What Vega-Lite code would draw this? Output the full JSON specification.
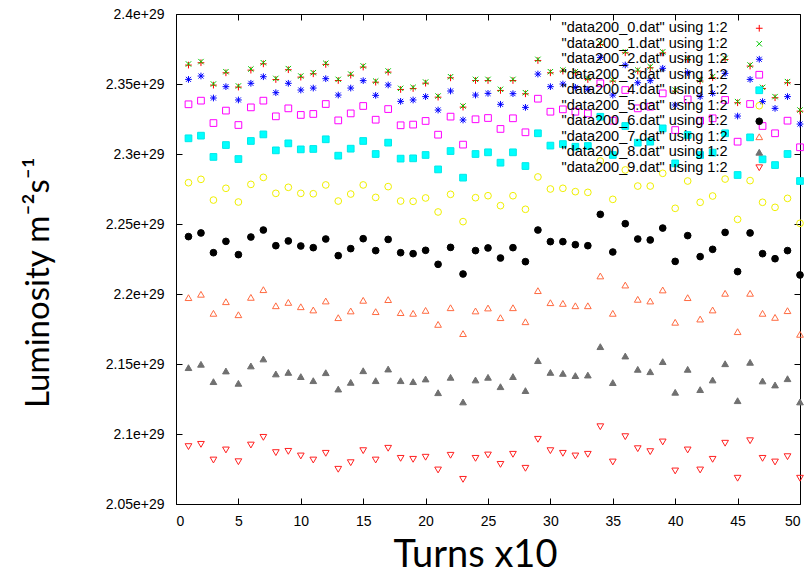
{
"$schema":"https://vega.github.io/schema/vega-lite/v6.json",
"width":624,"height":490,
"autosize":{"type":"none"},
"padding":{"left":176,"top":14,"right":9,"bottom":75},
"background":"white",
"config":{"view":{"stroke":"black","strokeWidth":1},
"axis":{"domain":false,"grid":false,"tickSize":-6,"tickColor":"black","tickWidth":1,"labelFont":"Liberation Sans","labelFontSize":14,"labelColor":"black","titleColor":"black","titleFontWeight":"normal"},
"legend":{"labelLimit":0}},
"datasets":{"d":[
{"s":"data200_0","x":1,"y":2.3635e29},{"s":"data200_0","x":2,"y":2.3652e29},{"s":"data200_0","x":3,"y":2.3492e29},{"s":"data200_0","x":4,"y":2.3580e29},{"s":"data200_0","x":5,"y":2.3478e29},{"s":"data200_0","x":6,"y":2.3599e29},{"s":"data200_0","x":7,"y":2.3644e29},{"s":"data200_0","x":8,"y":2.3532e29},{"s":"data200_0","x":9,"y":2.3602e29},{"s":"data200_0","x":10,"y":2.3549e29},
{"s":"data200_0","x":11,"y":2.3573e29},{"s":"data200_0","x":12,"y":2.3640e29},{"s":"data200_0","x":13,"y":2.3525e29},{"s":"data200_0","x":14,"y":2.3563e29},{"s":"data200_0","x":15,"y":2.3621e29},{"s":"data200_0","x":16,"y":2.3513e29},{"s":"data200_0","x":17,"y":2.3585e29},{"s":"data200_0","x":18,"y":2.3461e29},{"s":"data200_0","x":19,"y":2.3468e29},{"s":"data200_0","x":20,"y":2.3506e29},
{"s":"data200_0","x":21,"y":2.3406e29},{"s":"data200_0","x":22,"y":2.3544e29},{"s":"data200_0","x":23,"y":2.3335e29},{"s":"data200_0","x":24,"y":2.3525e29},{"s":"data200_0","x":25,"y":2.3525e29},{"s":"data200_0","x":26,"y":2.3454e29},{"s":"data200_0","x":27,"y":2.3525e29},{"s":"data200_0","x":28,"y":2.3430e29},{"s":"data200_0","x":29,"y":2.3668e29},{"s":"data200_0","x":30,"y":2.3580e29},
{"s":"data200_0","x":31,"y":2.3592e29},{"s":"data200_0","x":32,"y":2.3580e29},{"s":"data200_0","x":33,"y":2.3532e29},{"s":"data200_0","x":34,"y":2.3782e29},{"s":"data200_0","x":35,"y":2.3521e29},{"s":"data200_0","x":36,"y":2.3723e29},{"s":"data200_0","x":37,"y":2.3592e29},{"s":"data200_0","x":38,"y":2.3616e29},{"s":"data200_0","x":39,"y":2.3722e29},{"s":"data200_0","x":40,"y":2.3449e29},
{"s":"data200_0","x":41,"y":2.3675e29},{"s":"data200_0","x":42,"y":2.3521e29},{"s":"data200_0","x":43,"y":2.3545e29},{"s":"data200_0","x":44,"y":2.3675e29},{"s":"data200_0","x":45,"y":2.3366e29},{"s":"data200_0","x":46,"y":2.3628e29},{"s":"data200_0","x":47,"y":2.3468e29},{"s":"data200_0","x":48,"y":2.3402e29},{"s":"data200_0","x":49,"y":2.3509e29},{"s":"data200_0","x":50,"y":2.3306e29},
{"s":"data200_1","x":1,"y":2.3643e29},{"s":"data200_1","x":2,"y":2.3660e29},{"s":"data200_1","x":3,"y":2.3500e29},{"s":"data200_1","x":4,"y":2.3588e29},{"s":"data200_1","x":5,"y":2.3486e29},{"s":"data200_1","x":6,"y":2.3607e29},{"s":"data200_1","x":7,"y":2.3652e29},{"s":"data200_1","x":8,"y":2.3540e29},{"s":"data200_1","x":9,"y":2.3610e29},{"s":"data200_1","x":10,"y":2.3557e29},
{"s":"data200_1","x":11,"y":2.3581e29},{"s":"data200_1","x":12,"y":2.3648e29},{"s":"data200_1","x":13,"y":2.3533e29},{"s":"data200_1","x":14,"y":2.3571e29},{"s":"data200_1","x":15,"y":2.3629e29},{"s":"data200_1","x":16,"y":2.3521e29},{"s":"data200_1","x":17,"y":2.3593e29},{"s":"data200_1","x":18,"y":2.3469e29},{"s":"data200_1","x":19,"y":2.3476e29},{"s":"data200_1","x":20,"y":2.3514e29},
{"s":"data200_1","x":21,"y":2.3414e29},{"s":"data200_1","x":22,"y":2.3552e29},{"s":"data200_1","x":23,"y":2.3343e29},{"s":"data200_1","x":24,"y":2.3533e29},{"s":"data200_1","x":25,"y":2.3533e29},{"s":"data200_1","x":26,"y":2.3462e29},{"s":"data200_1","x":27,"y":2.3533e29},{"s":"data200_1","x":28,"y":2.3438e29},{"s":"data200_1","x":29,"y":2.3676e29},{"s":"data200_1","x":30,"y":2.3588e29},
{"s":"data200_1","x":31,"y":2.3600e29},{"s":"data200_1","x":32,"y":2.3588e29},{"s":"data200_1","x":33,"y":2.3540e29},{"s":"data200_1","x":34,"y":2.3790e29},{"s":"data200_1","x":35,"y":2.3529e29},{"s":"data200_1","x":36,"y":2.3731e29},{"s":"data200_1","x":37,"y":2.3600e29},{"s":"data200_1","x":38,"y":2.3624e29},{"s":"data200_1","x":39,"y":2.3730e29},{"s":"data200_1","x":40,"y":2.3457e29},
{"s":"data200_1","x":41,"y":2.3683e29},{"s":"data200_1","x":42,"y":2.3529e29},{"s":"data200_1","x":43,"y":2.3553e29},{"s":"data200_1","x":44,"y":2.3683e29},{"s":"data200_1","x":45,"y":2.3374e29},{"s":"data200_1","x":46,"y":2.3636e29},{"s":"data200_1","x":47,"y":2.3476e29},{"s":"data200_1","x":48,"y":2.3410e29},{"s":"data200_1","x":49,"y":2.3517e29},{"s":"data200_1","x":50,"y":2.3314e29},
{"s":"data200_2","x":1,"y":2.3533e29},{"s":"data200_2","x":2,"y":2.3557e29},{"s":"data200_2","x":3,"y":2.3400e29},{"s":"data200_2","x":4,"y":2.3481e29},{"s":"data200_2","x":5,"y":2.3386e29},{"s":"data200_2","x":6,"y":2.3505e29},{"s":"data200_2","x":7,"y":2.3552e29},{"s":"data200_2","x":8,"y":2.3438e29},{"s":"data200_2","x":9,"y":2.3505e29},{"s":"data200_2","x":10,"y":2.3457e29},
{"s":"data200_2","x":11,"y":2.3471e29},{"s":"data200_2","x":12,"y":2.3538e29},{"s":"data200_2","x":13,"y":2.3421e29},{"s":"data200_2","x":14,"y":2.3471e29},{"s":"data200_2","x":15,"y":2.3524e29},{"s":"data200_2","x":16,"y":2.3419e29},{"s":"data200_2","x":17,"y":2.3493e29},{"s":"data200_2","x":18,"y":2.3376e29},{"s":"data200_2","x":19,"y":2.3386e29},{"s":"data200_2","x":20,"y":2.3410e29},
{"s":"data200_2","x":21,"y":2.3314e29},{"s":"data200_2","x":22,"y":2.3450e29},{"s":"data200_2","x":23,"y":2.3243e29},{"s":"data200_2","x":24,"y":2.3421e29},{"s":"data200_2","x":25,"y":2.3433e29},{"s":"data200_2","x":26,"y":2.3355e29},{"s":"data200_2","x":27,"y":2.3431e29},{"s":"data200_2","x":28,"y":2.3333e29},{"s":"data200_2","x":29,"y":2.3571e29},{"s":"data200_2","x":30,"y":2.3481e29},
{"s":"data200_2","x":31,"y":2.3500e29},{"s":"data200_2","x":32,"y":2.3476e29},{"s":"data200_2","x":33,"y":2.3462e29},{"s":"data200_2","x":34,"y":2.3690e29},{"s":"data200_2","x":35,"y":2.3421e29},{"s":"data200_2","x":36,"y":2.3636e29},{"s":"data200_2","x":37,"y":2.3509e29},{"s":"data200_2","x":38,"y":2.3524e29},{"s":"data200_2","x":39,"y":2.3612e29},{"s":"data200_2","x":40,"y":2.3350e29},
{"s":"data200_2","x":41,"y":2.3581e29},{"s":"data200_2","x":42,"y":2.3410e29},{"s":"data200_2","x":43,"y":2.3433e29},{"s":"data200_2","x":44,"y":2.3576e29},{"s":"data200_2","x":45,"y":2.3271e29},{"s":"data200_2","x":46,"y":2.3533e29},{"s":"data200_2","x":47,"y":2.3374e29},{"s":"data200_2","x":48,"y":2.3326e29},{"s":"data200_2","x":49,"y":2.3410e29},{"s":"data200_2","x":50,"y":2.3214e29},
{"s":"data200_3","x":1,"y":2.3355e29},{"s":"data200_3","x":2,"y":2.3381e29},{"s":"data200_3","x":3,"y":2.3221e29},{"s":"data200_3","x":4,"y":2.3310e29},{"s":"data200_3","x":5,"y":2.3207e29},{"s":"data200_3","x":6,"y":2.3333e29},{"s":"data200_3","x":7,"y":2.3381e29},{"s":"data200_3","x":8,"y":2.3269e29},{"s":"data200_3","x":9,"y":2.3326e29},{"s":"data200_3","x":10,"y":2.3279e29},
{"s":"data200_3","x":11,"y":2.3286e29},{"s":"data200_3","x":12,"y":2.3357e29},{"s":"data200_3","x":13,"y":2.3240e29},{"s":"data200_3","x":14,"y":2.3290e29},{"s":"data200_3","x":15,"y":2.3343e29},{"s":"data200_3","x":16,"y":2.3245e29},{"s":"data200_3","x":17,"y":2.3321e29},{"s":"data200_3","x":18,"y":2.3205e29},{"s":"data200_3","x":19,"y":2.3210e29},{"s":"data200_3","x":20,"y":2.3236e29},
{"s":"data200_3","x":21,"y":2.3138e29},{"s":"data200_3","x":22,"y":2.3267e29},{"s":"data200_3","x":23,"y":2.3067e29},{"s":"data200_3","x":24,"y":2.3248e29},{"s":"data200_3","x":25,"y":2.3257e29},{"s":"data200_3","x":26,"y":2.3179e29},{"s":"data200_3","x":27,"y":2.3255e29},{"s":"data200_3","x":28,"y":2.3155e29},{"s":"data200_3","x":29,"y":2.3395e29},{"s":"data200_3","x":30,"y":2.3302e29},
{"s":"data200_3","x":31,"y":2.3319e29},{"s":"data200_3","x":32,"y":2.3302e29},{"s":"data200_3","x":33,"y":2.3290e29},{"s":"data200_3","x":34,"y":2.3505e29},{"s":"data200_3","x":35,"y":2.3238e29},{"s":"data200_3","x":36,"y":2.3457e29},{"s":"data200_3","x":37,"y":2.3326e29},{"s":"data200_3","x":38,"y":2.3338e29},{"s":"data200_3","x":39,"y":2.3433e29},{"s":"data200_3","x":40,"y":2.3171e29},
{"s":"data200_3","x":41,"y":2.3390e29},{"s":"data200_3","x":42,"y":2.3238e29},{"s":"data200_3","x":43,"y":2.3255e29},{"s":"data200_3","x":44,"y":2.3386e29},{"s":"data200_3","x":45,"y":2.3088e29},{"s":"data200_3","x":46,"y":2.3357e29},{"s":"data200_3","x":47,"y":2.3200e29},{"s":"data200_3","x":48,"y":2.3148e29},{"s":"data200_3","x":49,"y":2.3238e29},{"s":"data200_3","x":50,"y":2.3048e29},
{"s":"data200_4","x":1,"y":2.3112e29},{"s":"data200_4","x":2,"y":2.3131e29},{"s":"data200_4","x":3,"y":2.2979e29},{"s":"data200_4","x":4,"y":2.3064e29},{"s":"data200_4","x":5,"y":2.2964e29},{"s":"data200_4","x":6,"y":2.3093e29},{"s":"data200_4","x":7,"y":2.3140e29},{"s":"data200_4","x":8,"y":2.3026e29},{"s":"data200_4","x":9,"y":2.3076e29},{"s":"data200_4","x":10,"y":2.3033e29},
{"s":"data200_4","x":11,"y":2.3036e29},{"s":"data200_4","x":12,"y":2.3105e29},{"s":"data200_4","x":13,"y":2.2988e29},{"s":"data200_4","x":14,"y":2.3038e29},{"s":"data200_4","x":15,"y":2.3093e29},{"s":"data200_4","x":16,"y":2.3000e29},{"s":"data200_4","x":17,"y":2.3081e29},{"s":"data200_4","x":18,"y":2.2967e29},{"s":"data200_4","x":19,"y":2.2969e29},{"s":"data200_4","x":20,"y":2.2993e29},
{"s":"data200_4","x":21,"y":2.2890e29},{"s":"data200_4","x":22,"y":2.3021e29},{"s":"data200_4","x":23,"y":2.2831e29},{"s":"data200_4","x":24,"y":2.3000e29},{"s":"data200_4","x":25,"y":2.3012e29},{"s":"data200_4","x":26,"y":2.2938e29},{"s":"data200_4","x":27,"y":2.3012e29},{"s":"data200_4","x":28,"y":2.2914e29},{"s":"data200_4","x":29,"y":2.3148e29},{"s":"data200_4","x":30,"y":2.3060e29},
{"s":"data200_4","x":31,"y":2.3071e29},{"s":"data200_4","x":32,"y":2.3052e29},{"s":"data200_4","x":33,"y":2.3057e29},{"s":"data200_4","x":34,"y":2.3266e29},{"s":"data200_4","x":35,"y":2.2993e29},{"s":"data200_4","x":36,"y":2.3200e29},{"s":"data200_4","x":37,"y":2.3081e29},{"s":"data200_4","x":38,"y":2.3088e29},{"s":"data200_4","x":39,"y":2.3183e29},{"s":"data200_4","x":40,"y":2.2933e29},
{"s":"data200_4","x":41,"y":2.3136e29},{"s":"data200_4","x":42,"y":2.2993e29},{"s":"data200_4","x":43,"y":2.3010e29},{"s":"data200_4","x":44,"y":2.3148e29},{"s":"data200_4","x":45,"y":2.2850e29},{"s":"data200_4","x":46,"y":2.3119e29},{"s":"data200_4","x":47,"y":2.2962e29},{"s":"data200_4","x":48,"y":2.2921e29},{"s":"data200_4","x":49,"y":2.3000e29},{"s":"data200_4","x":50,"y":2.2807e29},
{"s":"data200_5","x":1,"y":2.2795e29},{"s":"data200_5","x":2,"y":2.2819e29},{"s":"data200_5","x":3,"y":2.2671e29},{"s":"data200_5","x":4,"y":2.2755e29},{"s":"data200_5","x":5,"y":2.2657e29},{"s":"data200_5","x":6,"y":2.2783e29},{"s":"data200_5","x":7,"y":2.2833e29},{"s":"data200_5","x":8,"y":2.2719e29},{"s":"data200_5","x":9,"y":2.2762e29},{"s":"data200_5","x":10,"y":2.2719e29},
{"s":"data200_5","x":11,"y":2.2716e29},{"s":"data200_5","x":12,"y":2.2779e29},{"s":"data200_5","x":13,"y":2.2664e29},{"s":"data200_5","x":14,"y":2.2714e29},{"s":"data200_5","x":15,"y":2.2779e29},{"s":"data200_5","x":16,"y":2.2690e29},{"s":"data200_5","x":17,"y":2.2767e29},{"s":"data200_5","x":18,"y":2.2664e29},{"s":"data200_5","x":19,"y":2.2662e29},{"s":"data200_5","x":20,"y":2.2686e29},
{"s":"data200_5","x":21,"y":2.2586e29},{"s":"data200_5","x":22,"y":2.2712e29},{"s":"data200_5","x":23,"y":2.2517e29},{"s":"data200_5","x":24,"y":2.2688e29},{"s":"data200_5","x":25,"y":2.2702e29},{"s":"data200_5","x":26,"y":2.2631e29},{"s":"data200_5","x":27,"y":2.2702e29},{"s":"data200_5","x":28,"y":2.2605e29},{"s":"data200_5","x":29,"y":2.2836e29},{"s":"data200_5","x":30,"y":2.2750e29},
{"s":"data200_5","x":31,"y":2.2755e29},{"s":"data200_5","x":32,"y":2.2731e29},{"s":"data200_5","x":33,"y":2.2726e29},{"s":"data200_5","x":34,"y":2.2950e29},{"s":"data200_5","x":35,"y":2.2676e29},{"s":"data200_5","x":36,"y":2.2886e29},{"s":"data200_5","x":37,"y":2.2771e29},{"s":"data200_5","x":38,"y":2.2771e29},{"s":"data200_5","x":39,"y":2.2862e29},{"s":"data200_5","x":40,"y":2.2612e29},
{"s":"data200_5","x":41,"y":2.2807e29},{"s":"data200_5","x":42,"y":2.2655e29},{"s":"data200_5","x":43,"y":2.2700e29},{"s":"data200_5","x":44,"y":2.2821e29},{"s":"data200_5","x":45,"y":2.2533e29},{"s":"data200_5","x":46,"y":2.2810e29},{"s":"data200_5","x":47,"y":2.2655e29},{"s":"data200_5","x":48,"y":2.2619e29},{"s":"data200_5","x":49,"y":2.2683e29},{"s":"data200_5","x":50,"y":2.2505e29},
{"s":"data200_6","x":1,"y":2.2410e29},{"s":"data200_6","x":2,"y":2.2436e29},{"s":"data200_6","x":3,"y":2.2295e29},{"s":"data200_6","x":4,"y":2.2376e29},{"s":"data200_6","x":5,"y":2.2281e29},{"s":"data200_6","x":6,"y":2.2407e29},{"s":"data200_6","x":7,"y":2.2457e29},{"s":"data200_6","x":8,"y":2.2345e29},{"s":"data200_6","x":9,"y":2.2379e29},{"s":"data200_6","x":10,"y":2.2343e29},
{"s":"data200_6","x":11,"y":2.2331e29},{"s":"data200_6","x":12,"y":2.2393e29},{"s":"data200_6","x":13,"y":2.2274e29},{"s":"data200_6","x":14,"y":2.2324e29},{"s":"data200_6","x":15,"y":2.2395e29},{"s":"data200_6","x":16,"y":2.2310e29},{"s":"data200_6","x":17,"y":2.2390e29},{"s":"data200_6","x":18,"y":2.2295e29},{"s":"data200_6","x":19,"y":2.2288e29},{"s":"data200_6","x":20,"y":2.2312e29},
{"s":"data200_6","x":21,"y":2.2212e29},{"s":"data200_6","x":22,"y":2.2333e29},{"s":"data200_6","x":23,"y":2.2143e29},{"s":"data200_6","x":24,"y":2.2310e29},{"s":"data200_6","x":25,"y":2.2329e29},{"s":"data200_6","x":26,"y":2.2257e29},{"s":"data200_6","x":27,"y":2.2331e29},{"s":"data200_6","x":28,"y":2.2231e29},{"s":"data200_6","x":29,"y":2.2457e29},{"s":"data200_6","x":30,"y":2.2374e29},
{"s":"data200_6","x":31,"y":2.2374e29},{"s":"data200_6","x":32,"y":2.2352e29},{"s":"data200_6","x":33,"y":2.2345e29},{"s":"data200_6","x":34,"y":2.2569e29},{"s":"data200_6","x":35,"y":2.2300e29},{"s":"data200_6","x":36,"y":2.2502e29},{"s":"data200_6","x":37,"y":2.2393e29},{"s":"data200_6","x":38,"y":2.2386e29},{"s":"data200_6","x":39,"y":2.2471e29},{"s":"data200_6","x":40,"y":2.2233e29},
{"s":"data200_6","x":41,"y":2.2417e29},{"s":"data200_6","x":42,"y":2.2267e29},{"s":"data200_6","x":43,"y":2.2319e29},{"s":"data200_6","x":44,"y":2.2440e29},{"s":"data200_6","x":45,"y":2.2160e29},{"s":"data200_6","x":46,"y":2.2436e29},{"s":"data200_6","x":47,"y":2.2288e29},{"s":"data200_6","x":48,"y":2.2252e29},{"s":"data200_6","x":49,"y":2.2310e29},{"s":"data200_6","x":50,"y":2.2136e29},
{"s":"data200_7","x":1,"y":2.1974e29},{"s":"data200_7","x":2,"y":2.1998e29},{"s":"data200_7","x":3,"y":2.1862e29},{"s":"data200_7","x":4,"y":2.1945e29},{"s":"data200_7","x":5,"y":2.1852e29},{"s":"data200_7","x":6,"y":2.1976e29},{"s":"data200_7","x":7,"y":2.2031e29},{"s":"data200_7","x":8,"y":2.1916e29},{"s":"data200_7","x":9,"y":2.1940e29},{"s":"data200_7","x":10,"y":2.1909e29},
{"s":"data200_7","x":11,"y":2.1886e29},{"s":"data200_7","x":12,"y":2.1950e29},{"s":"data200_7","x":13,"y":2.1831e29},{"s":"data200_7","x":14,"y":2.1879e29},{"s":"data200_7","x":15,"y":2.1955e29},{"s":"data200_7","x":16,"y":2.1874e29},{"s":"data200_7","x":17,"y":2.1960e29},{"s":"data200_7","x":18,"y":2.1867e29},{"s":"data200_7","x":19,"y":2.1862e29},{"s":"data200_7","x":20,"y":2.1883e29},
{"s":"data200_7","x":21,"y":2.1783e29},{"s":"data200_7","x":22,"y":2.1902e29},{"s":"data200_7","x":23,"y":2.1717e29},{"s":"data200_7","x":24,"y":2.1879e29},{"s":"data200_7","x":25,"y":2.1900e29},{"s":"data200_7","x":26,"y":2.1831e29},{"s":"data200_7","x":27,"y":2.1902e29},{"s":"data200_7","x":28,"y":2.1802e29},{"s":"data200_7","x":29,"y":2.2024e29},{"s":"data200_7","x":30,"y":2.1938e29},
{"s":"data200_7","x":31,"y":2.1933e29},{"s":"data200_7","x":32,"y":2.1916e29},{"s":"data200_7","x":33,"y":2.1916e29},{"s":"data200_7","x":34,"y":2.2129e29},{"s":"data200_7","x":35,"y":2.1862e29},{"s":"data200_7","x":36,"y":2.2064e29},{"s":"data200_7","x":37,"y":2.1962e29},{"s":"data200_7","x":38,"y":2.1950e29},{"s":"data200_7","x":39,"y":2.2029e29},{"s":"data200_7","x":40,"y":2.1798e29},
{"s":"data200_7","x":41,"y":2.1974e29},{"s":"data200_7","x":42,"y":2.1821e29},{"s":"data200_7","x":43,"y":2.1886e29},{"s":"data200_7","x":44,"y":2.2005e29},{"s":"data200_7","x":45,"y":2.1731e29},{"s":"data200_7","x":46,"y":2.2005e29},{"s":"data200_7","x":47,"y":2.1862e29},{"s":"data200_7","x":48,"y":2.1833e29},{"s":"data200_7","x":49,"y":2.1881e29},{"s":"data200_7","x":50,"y":2.1712e29},
{"s":"data200_8","x":1,"y":2.1474e29},{"s":"data200_8","x":2,"y":2.1498e29},{"s":"data200_8","x":3,"y":2.1374e29},{"s":"data200_8","x":4,"y":2.1450e29},{"s":"data200_8","x":5,"y":2.1362e29},{"s":"data200_8","x":6,"y":2.1486e29},{"s":"data200_8","x":7,"y":2.1536e29},{"s":"data200_8","x":8,"y":2.1429e29},{"s":"data200_8","x":9,"y":2.1440e29},{"s":"data200_8","x":10,"y":2.1410e29},
{"s":"data200_8","x":11,"y":2.1381e29},{"s":"data200_8","x":12,"y":2.1438e29},{"s":"data200_8","x":13,"y":2.1321e29},{"s":"data200_8","x":14,"y":2.1369e29},{"s":"data200_8","x":15,"y":2.1452e29},{"s":"data200_8","x":16,"y":2.1381e29},{"s":"data200_8","x":17,"y":2.1464e29},{"s":"data200_8","x":18,"y":2.1381e29},{"s":"data200_8","x":19,"y":2.1374e29},{"s":"data200_8","x":20,"y":2.1393e29},
{"s":"data200_8","x":21,"y":2.1295e29},{"s":"data200_8","x":22,"y":2.1405e29},{"s":"data200_8","x":23,"y":2.1229e29},{"s":"data200_8","x":24,"y":2.1386e29},{"s":"data200_8","x":25,"y":2.1405e29},{"s":"data200_8","x":26,"y":2.1338e29},{"s":"data200_8","x":27,"y":2.1410e29},{"s":"data200_8","x":28,"y":2.1310e29},{"s":"data200_8","x":29,"y":2.1524e29},{"s":"data200_8","x":30,"y":2.1440e29},
{"s":"data200_8","x":31,"y":2.1433e29},{"s":"data200_8","x":32,"y":2.1417e29},{"s":"data200_8","x":33,"y":2.1421e29},{"s":"data200_8","x":34,"y":2.1624e29},{"s":"data200_8","x":35,"y":2.1367e29},{"s":"data200_8","x":36,"y":2.1557e29},{"s":"data200_8","x":37,"y":2.1462e29},{"s":"data200_8","x":38,"y":2.1445e29},{"s":"data200_8","x":39,"y":2.1517e29},{"s":"data200_8","x":40,"y":2.1298e29},
{"s":"data200_8","x":41,"y":2.1462e29},{"s":"data200_8","x":42,"y":2.1317e29},{"s":"data200_8","x":43,"y":2.1386e29},{"s":"data200_8","x":44,"y":2.1502e29},{"s":"data200_8","x":45,"y":2.1238e29},{"s":"data200_8","x":46,"y":2.1512e29},{"s":"data200_8","x":47,"y":2.1379e29},{"s":"data200_8","x":48,"y":2.1350e29},{"s":"data200_8","x":49,"y":2.1395e29},{"s":"data200_8","x":50,"y":2.1229e29},
{"s":"data200_9","x":1,"y":2.0910e29},{"s":"data200_9","x":2,"y":2.0926e29},{"s":"data200_9","x":3,"y":2.0814e29},{"s":"data200_9","x":4,"y":2.0886e29},{"s":"data200_9","x":5,"y":2.0802e29},{"s":"data200_9","x":6,"y":2.0921e29},{"s":"data200_9","x":7,"y":2.0976e29},{"s":"data200_9","x":8,"y":2.0867e29},{"s":"data200_9","x":9,"y":2.0876e29},{"s":"data200_9","x":10,"y":2.0843e29},
{"s":"data200_9","x":11,"y":2.0814e29},{"s":"data200_9","x":12,"y":2.0862e29},{"s":"data200_9","x":13,"y":2.0748e29},{"s":"data200_9","x":14,"y":2.0795e29},{"s":"data200_9","x":15,"y":2.0881e29},{"s":"data200_9","x":16,"y":2.0814e29},{"s":"data200_9","x":17,"y":2.0898e29},{"s":"data200_9","x":18,"y":2.0826e29},{"s":"data200_9","x":19,"y":2.0819e29},{"s":"data200_9","x":20,"y":2.0834e29},
{"s":"data200_9","x":21,"y":2.0743e29},{"s":"data200_9","x":22,"y":2.0848e29},{"s":"data200_9","x":23,"y":2.0676e29},{"s":"data200_9","x":24,"y":2.0826e29},{"s":"data200_9","x":25,"y":2.0850e29},{"s":"data200_9","x":26,"y":2.0783e29},{"s":"data200_9","x":27,"y":2.0855e29},{"s":"data200_9","x":28,"y":2.0755e29},{"s":"data200_9","x":29,"y":2.0962e29},{"s":"data200_9","x":30,"y":2.0881e29},
{"s":"data200_9","x":31,"y":2.0862e29},{"s":"data200_9","x":32,"y":2.0843e29},{"s":"data200_9","x":33,"y":2.0855e29},{"s":"data200_9","x":34,"y":2.1052e29},{"s":"data200_9","x":35,"y":2.0800e29},{"s":"data200_9","x":36,"y":2.0981e29},{"s":"data200_9","x":37,"y":2.0895e29},{"s":"data200_9","x":38,"y":2.0874e29},{"s":"data200_9","x":39,"y":2.0943e29},{"s":"data200_9","x":40,"y":2.0736e29},
{"s":"data200_9","x":41,"y":2.0886e29},{"s":"data200_9","x":42,"y":2.0743e29},{"s":"data200_9","x":43,"y":2.0819e29},{"s":"data200_9","x":44,"y":2.0934e29},{"s":"data200_9","x":45,"y":2.0684e29},{"s":"data200_9","x":46,"y":2.0952e29},{"s":"data200_9","x":47,"y":2.0826e29},{"s":"data200_9","x":48,"y":2.0800e29},{"s":"data200_9","x":49,"y":2.0838e29},{"s":"data200_9","x":50,"y":2.0684e29}
]},
"data":{"name":"d"},
"layer":[
{"mark":{"type":"point","size":45,"strokeWidth":1,"opacity":1},
"encoding":{
"x":{"field":"x","type":"quantitative","scale":{"domain":[0,50],"nice":false,"zero":false},
 "axis":{"orient":"bottom","values":[0,5,10,15,20,25,30,35,40,45,50],"labelPadding":16,"title":"Turns x10","titleFont":"Lato","titleFontSize":38,"titleX":299,"titleY":62,"titleAlign":"center","titleBaseline":"alphabetic"}},
"y":{"field":"y","type":"quantitative","scale":{"domain":[2.05e29,2.4e29],"nice":false,"zero":false},
 "axis":{"orient":"left","values":[2.05e29,2.1e29,2.15e29,2.2e29,2.25e29,2.3e29,2.35e29,2.4e29],"format":".3~e","labelPadding":18,"title":"Luminosity m⁻²s⁻¹","titleFont":"Lato","titleFontSize":33,"titleAngle":-90,"titleX":-128,"titleY":268,"titleAlign":"center","titleBaseline":"alphabetic"}},
"stroke":{"field":"s","type":"nominal","scale":{"range":["#ff0000","#00c800","#0000ff","#ff00ff","#00e8e8","#f0f000","#000000","#ff6a40","#707070","#ff2020"]},
 "legend":{"orient":"none","legendX":576,"legendY":7,"title":null,"columns":1,"labelExpr":"'\"' + datum.label + '.dat\" using 1:2'","labelFont":"Liberation Sans","labelFontSize":14.5,"labelLimit":0,"labelColor":"black","labelAlign":"right","labelOffset":-39,"rowPadding":0.5,"symbolSize":45,"symbolStrokeWidth":1}},
"fill":{"field":"s","type":"nominal","scale":{"range":["transparent","transparent","transparent","transparent","#00ffff","transparent","#000000","transparent","#707070","transparent"]},
 "legend":{"orient":"none","legendX":576,"legendY":7,"title":null,"columns":1,"labelExpr":"'\"' + datum.label + '.dat\" using 1:2'","labelFont":"Liberation Sans","labelFontSize":14.5,"labelLimit":0,"labelColor":"black","labelAlign":"right","labelOffset":-39,"rowPadding":0.5,"symbolSize":45,"symbolStrokeWidth":1}},
"shape":{"field":"s","type":"nominal","scale":{"range":["M-1,0L1,0M0,-1L0,1","M-0.8,-0.8L0.8,0.8M-0.8,0.8L0.8,-0.8","M-1,0L1,0M0,-1L0,1M-0.75,-0.75L0.75,0.75M-0.75,0.75L0.75,-0.75","square","square","circle","circle","triangle-up","triangle-up","triangle-down"]},
 "legend":{"orient":"none","legendX":576,"legendY":7,"title":null,"columns":1,"labelExpr":"'\"' + datum.label + '.dat\" using 1:2'","labelFont":"Liberation Sans","labelFontSize":14.5,"labelLimit":0,"labelColor":"black","labelAlign":"right","labelOffset":-39,"rowPadding":0.5,"symbolSize":45,"symbolStrokeWidth":1}}
}},
{"mark":{"type":"point","opacity":0},
"encoding":{
"x":{"field":"x","type":"quantitative","axis":{"orient":"top","values":[0,5,10,15,20,25,30,35,40,45,50],"labels":false,"title":null}},
"y":{"field":"y","type":"quantitative","axis":{"orient":"right","values":[2.05e29,2.1e29,2.15e29,2.2e29,2.25e29,2.3e29,2.35e29,2.4e29],"labels":false,"title":null}}
}}
],
"resolve":{"axis":{"x":"independent","y":"independent"}}
}
